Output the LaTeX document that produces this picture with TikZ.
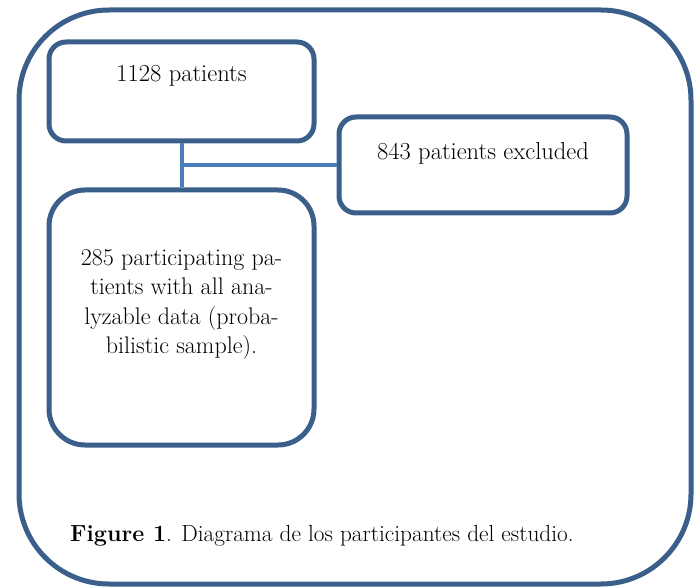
\documentclass[tikz,border=0pt]{standalone}
\definecolor{boxblue}{HTML}{3A5F8B}
\definecolor{linkblue}{HTML}{4A7EBB}
\begin{document}
\begin{tikzpicture}[x=1pt,y=-1pt,
  box/.style={draw=boxblue, line width=5pt, fill=white, inner sep=0pt},
  link/.style={draw=linkblue, line width=4pt},
  lbl/.style={font=\fontsize{24.5}{29}\selectfont, inner sep=0pt, anchor=base}]
\useasboundingbox (0,0) rectangle (699,588);
\draw[boxblue, line width=5pt, rounded corners=90pt] (19,10) rectangle (691,584);
\node[box, rounded corners=17pt, minimum width=265pt, minimum height=99pt] (b1) at (181.5,91.5) {};
\node[box, rounded corners=17pt, minimum width=288pt, minimum height=96pt] (b3) at (483,165) {};
\node[box, rounded corners=36pt, minimum width=265pt, minimum height=255pt] (b2) at (181.5,317.5) {};
\draw[link] (b1.south) -- (b2.north);
\draw[link] (b1.south |- b3.west) -- (b3.west);
\node[lbl] (t1) at (181.5,82) {1128 patients};
\node[lbl] (t3) at (483,160) {843 patients excluded};
\node[lbl, anchor=center, align=center, font=\fontsize{24}{29.5}\selectfont] (t2) at (181.5,304.5) {285 participating pa-\\tients with all ana-\\lyzable data (proba-\\bilistic sample).};
\node[font=\fontsize{23.3}{27}\selectfont, inner sep=0pt, anchor=base west] (cap) at (70,541) {\textbf{Figure 1}. Diagrama de los participantes del estudio.};
\end{tikzpicture}
\end{document}
